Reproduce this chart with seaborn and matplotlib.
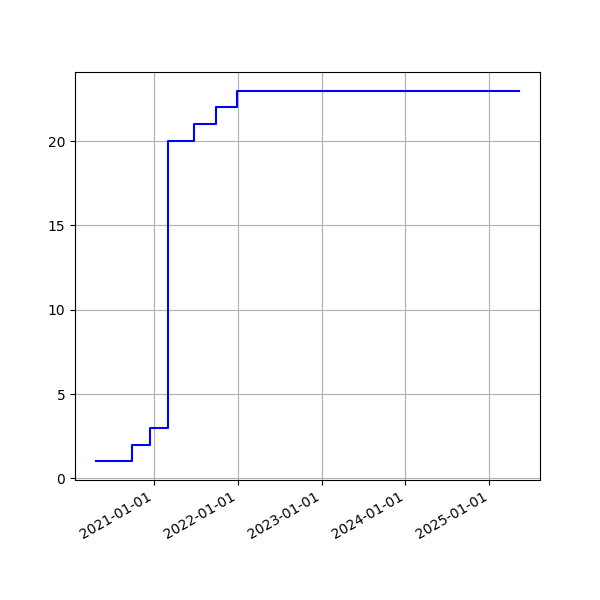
import numpy as np
import pandas as pd
import seaborn as sns
import matplotlib
matplotlib.use('Agg')
import matplotlib.pyplot as plt
import matplotlib.dates as mdates

# step dates and cumulative counts (last point only extends the line)
dates = ['2020-04-23', '2020-09-25', '2020-12-13', '2021-02-28',
         '2021-06-25', '2021-09-27', '2021-12-29', '2025-05-09']
counts = [1, 2, 3, 20, 21, 22, 23, 23]

df = pd.DataFrame({'date': pd.to_datetime(dates), 'count': counts})

fig, ax = plt.subplots(figsize=(6, 6), dpi=100)
sns.lineplot(data=df, x='date', y='count', ax=ax, color='blue',
             drawstyle='steps-post', linewidth=1.5)
ax.set_xlabel('')
ax.set_ylabel('')
ax.grid(True)
ax.xaxis.set_major_locator(mdates.YearLocator())
ax.xaxis.set_major_formatter(mdates.DateFormatter('%Y-%m-%d'))
fig.autofmt_xdate()
plt.savefig('out.png')
plt.close()
